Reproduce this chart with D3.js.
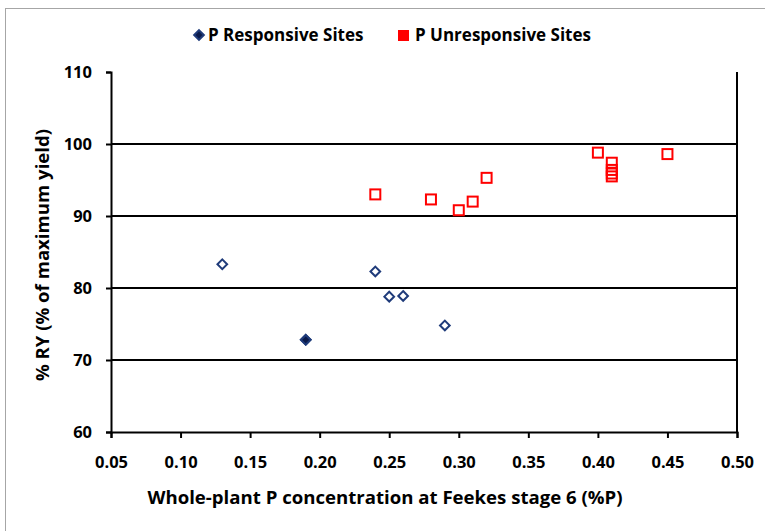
<!DOCTYPE html>
<html>
<head>
<meta charset="utf-8">
<script src="https://cdn.jsdelivr.net/npm/d3@7"></script>
<style>
  body { margin: 0; background: #fff; }
  svg text { font-family: "Open Sans", Lato, sans-serif; font-weight: bold; fill: #000; }
</style>
</head>
<body>
<div id="chart"></div>
<script>
// data
const respX = [0.13, 0.19, 0.19, 0.24, 0.25, 0.26, 0.29];
const respY = [83.3, 72.8, 72.8, 82.3, 78.8, 78.9, 74.8];
const unrespX = [0.24, 0.28, 0.30, 0.31, 0.32, 0.40, 0.41, 0.41, 0.41, 0.41, 0.45];
const unrespY = [93.0, 92.3, 90.8, 92.0, 95.3, 98.8, 97.4, 96.4, 95.9, 95.5, 98.6];
const xTicks = [0.05, 0.10, 0.15, 0.20, 0.25, 0.30, 0.35, 0.40, 0.45, 0.50];
const yTicks = [60, 70, 80, 90, 100, 110];

const W = 765, H = 531;
const pLeft = 111, pRight = 737, pTop = 72, pBottom = 432;

const svg = d3.select("#chart").append("svg")
    .attr("width", W).attr("height", H);

// outer chart frame
svg.append("rect")
    .attr("x", 5.5).attr("y", 8.5)
    .attr("width", W).attr("height", H)
    .attr("fill", "none").attr("stroke", "#a6a6a6");

var x = d3.scaleLinear().domain([0.05, 0.50]).range([pLeft, pRight]);
var y = d3.scaleLinear().domain([60, 110]).range([pBottom, pTop]);

// gridlines
svg.append("g").selectAll("line")
    .data(yTicks.filter(d => d > 60 && d < 110))
    .enter().append("line")
    .attr("x1", pLeft).attr("x2", pRight)
    .attr("y1", d => y(d)).attr("y2", d => y(d))
    .attr("stroke", "#000").attr("stroke-width", 2);

// right edge of the plot
svg.append("line")
    .attr("x1", pRight).attr("x2", pRight)
    .attr("y1", pTop).attr("y2", pBottom)
    .attr("stroke", "#000").attr("stroke-width", 2);

// axes
var xAxis = svg.append("g")
    .attr("transform", `translate(0,${pBottom})`)
    .call(d3.axisBottom(x).tickValues(xTicks).tickFormat(d3.format(".2f"))
        .tickSize(6).tickPadding(18));
var yAxis = svg.append("g")
    .attr("transform", `translate(${pLeft},0)`)
    .call(d3.axisLeft(y).tickValues(yTicks).tickSize(5).tickPadding(14));

[xAxis, yAxis].forEach(g => {
    g.select(".domain").attr("stroke", "#000").attr("stroke-width", 2);
    g.selectAll(".tick line").attr("stroke", "#000").attr("stroke-width", 2);
    g.selectAll("text").style("font-size", "16.5px").attr("fill", "#000");
    g.attr("font-family", null);
});

// axis titles
svg.append("text")
    .attr("x", 385).attr("y", 504)
    .attr("text-anchor", "middle")
    .style("font-size", "18.6px")
    .text("Whole-plant P concentration at Feekes stage 6 (%P)");

svg.append("text")
    .attr("transform", `translate(49,${(pTop + pBottom) / 2 + 3}) rotate(-90)`)
    .attr("text-anchor", "middle")
    .style("font-size", "18.6px")
    .text("% RY (% of maximum yield)");

// points
const diamond = d3.symbol().type(d3.symbolDiamond2).size(60);
const navy = "#1f3b7a";
const red = "#ff0000";

var resp = respX.map((v, i) => ({x: v, y: respY[i]}));
var unresp = unrespX.map((v, i) => ({x: v, y: unrespY[i]}));

svg.append("g").selectAll("path")
    .data(resp)
    .enter().append("path")
    .attr("d", diamond)
    .attr("transform", d => `translate(${x(d.x)},${y(d.y)})`)
    .attr("fill", (d, i) => i == 2 ? "#0a1a4a" : "none")
    .attr("stroke", navy).attr("stroke-width", 2);

svg.append("g").selectAll("rect")
    .data(unresp)
    .enter().append("rect")
    .attr("x", d => x(d.x) - 5).attr("y", d => y(d.y) - 5)
    .attr("width", 10).attr("height", 10)
    .attr("fill", "none")
    .attr("stroke", red).attr("stroke-width", 2);

// legend
var lg = svg.append("g");
lg.append("path")
    .attr("d", diamond)
    .attr("transform", "translate(199,35)")
    .attr("fill", "#0a1a4a").attr("stroke", navy).attr("stroke-width", 2);
lg.append("text").attr("x", 208).attr("y", 41)
    .style("font-size", "17px").text("P Responsive Sites");
lg.append("rect")
    .attr("x", 398).attr("y", 30).attr("width", 11).attr("height", 11)
    .attr("fill", red);
lg.append("text").attr("x", 415).attr("y", 41)
    .style("font-size", "17px").text("P Unresponsive Sites");
</script>
</body>
</html>
